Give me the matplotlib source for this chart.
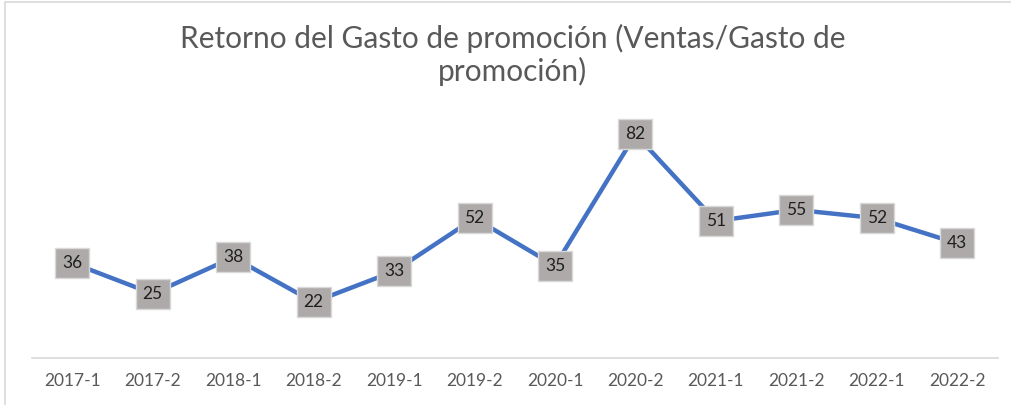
import matplotlib.pyplot as plt
from matplotlib.patches import Rectangle

plt.rcParams['font.family'] = ['Lato', 'DejaVu Sans']

periodos = ['2017-1', '2017-2', '2018-1', '2018-2', '2019-1', '2019-2',
            '2020-1', '2020-2', '2021-1', '2021-2', '2022-1', '2022-2']
retorno = [36, 25, 38, 22, 33, 52, 35, 82, 51, 55, 52, 43]

fig = plt.figure(figsize=(10.11, 4.05), dpi=100)
ax = fig.add_axes([0.0317, 0.116, 0.955, 0.6075])

x = range(len(periodos))
ax.plot(x, retorno, color='#4472C4', linewidth=3.2, solid_capstyle='round', zorder=2)

# etiquetas de datos con caja gris
for xi, v in zip(x, retorno):
    ax.text(xi, v, str(v), ha='center', va='center', fontsize=12.5, color='#1F1F1F',
            zorder=3,
            bbox=dict(boxstyle='square,pad=0.4', facecolor='#AEAAAA',
                      edgecolor='#D9D9D9', linewidth=1))

ax.set_xlim(-0.5, len(periodos) - 0.5)
ax.set_ylim(2, 90)
ax.set_xticks(list(x))
ax.set_xticklabels(periodos, fontsize=12.5, color='#595959')
ax.set_yticks([])
ax.tick_params(axis='x', length=0, pad=11)
for s in ['top', 'right', 'left']:
    ax.spines[s].set_visible(False)
ax.spines['bottom'].set_color('#D9D9D9')
ax.spines['bottom'].set_linewidth(1.2)

fig.text(0.507, 0.865, 'Retorno del Gasto de promoción (Ventas/Gasto de\npromoción)',
         ha='center', va='center', fontsize=21.5, color='#595959', linespacing=1.15)

# borde del gráfico
fig.add_artist(Rectangle((0.005, -0.01), 1.0, 1.005, transform=fig.transFigure,
                         fill=False, edgecolor='#D9D9D9', linewidth=1.2))

plt.savefig('out.png', dpi=100)
